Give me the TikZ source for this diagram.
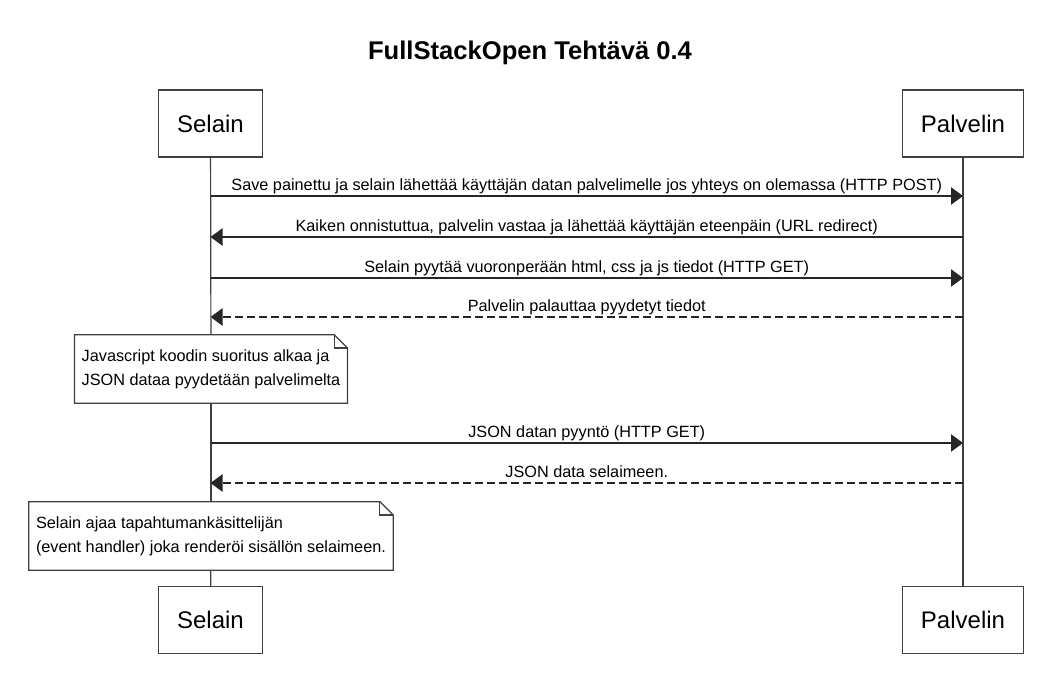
\documentclass[tikz,border=0pt]{standalone}
\usepackage{fontspec}
\setmainfont{Liberation Sans}
\usetikzlibrary{arrows.meta}

\begin{document}
\begin{tikzpicture}[x=0.75pt,y=0.75pt,
    actor/.style={draw=black!75, line width=0.9pt, minimum height=50.25pt, inner xsep=14pt, font=\fontsize{18}{20}\selectfont},
    lifeline/.style={draw=black!75, line width=0.9pt},
    call/.style={black!85, line width=0.9pt, -{Triangle[length=9pt,width=13pt]}},
    reply/.style={call, dash pattern=on 6pt off 3pt},
    msg/.style={midway, anchor=base, yshift=4.1pt, inner sep=0pt, text=black, font=\fontsize{12.2}{14.6}\selectfont},
    notetext/.style={align=left, inner xsep=5.25pt, minimum height=51pt, font=\fontsize{12.2}{18}\selectfont},
    fold/.style={draw=black!75, line width=0.9pt}]
    \useasboundingbox (0,0) rectangle (1061,-696);
    \node[anchor=base, font=\fontsize{19.2}{22}\bfseries] (title) at (530,-59) {FullStackOpen Tehtävä 0.4};
    % participants
    \node[actor] (selTop) at (210.5,-123.5) {Selain};
    \node[actor] (palTop) at (963,-123.5) {Palvelin};
    \node[actor] (selBot) at (210.5,-620) {Selain};
    \node[actor] (palBot) at (963,-620) {Palvelin};
    % notes
    \node[notetext] (note1) at (211,-369) {Javascript koodin suoritus alkaa ja\\JSON dataa pyydetään palvelimelta};
    \node[notetext] (note2) at (211,-536) {Selain ajaa tapahtumankäsittelijän\\(event handler) joka renderöi sisällön selaimeen.};
    \foreach \n in {note1,note2}{
        \draw[fold] (\n.north west) -- ([xshift=-10pt]\n.north east) -- ([yshift=-10pt]\n.north east)
            -- (\n.south east) -- (\n.south west) -- cycle;
        \draw[fold] ([xshift=-10pt]\n.north east) |- ([yshift=-10pt]\n.north east);
    }
    % lifelines
    \draw[lifeline] (selTop) -- (note1);
    \draw[lifeline] (note1) -- (note2);
    \draw[lifeline] (note2) -- (selBot);
    \draw[lifeline] (palTop) -- (palBot);
    % messages
    \coordinate (m1) at (0,-196);
    \coordinate (m2) at (0,-237);
    \coordinate (m3) at (0,-278);
    \coordinate (m4) at (0,-317);
    \coordinate (m5) at (0,-443);
    \coordinate (m6) at (0,-483);
    \draw[call] (selTop |- m1) -- (palTop |- m1) node[msg] {Save painettu ja selain lähettää käyttäjän datan palvelimelle jos yhteys on olemassa (HTTP POST)};
    \draw[call] (palTop |- m2) -- (selTop |- m2) node[msg] {Kaiken onnistuttua, palvelin vastaa ja lähettää käyttäjän eteenpäin (URL redirect)};
    \draw[call] (selTop |- m3) -- (palTop |- m3) node[msg] {Selain pyytää vuoronperään html, css ja js tiedot (HTTP GET)};
    \draw[reply] (palTop |- m4) -- (selTop |- m4) node[msg] {Palvelin palauttaa pyydetyt tiedot};
    \draw[call] (selTop |- m5) -- (palTop |- m5) node[msg] {JSON datan pyyntö (HTTP GET)};
    \draw[reply] (palTop |- m6) -- (selTop |- m6) node[msg] {JSON data selaimeen.};
\end{tikzpicture}
\end{document}
